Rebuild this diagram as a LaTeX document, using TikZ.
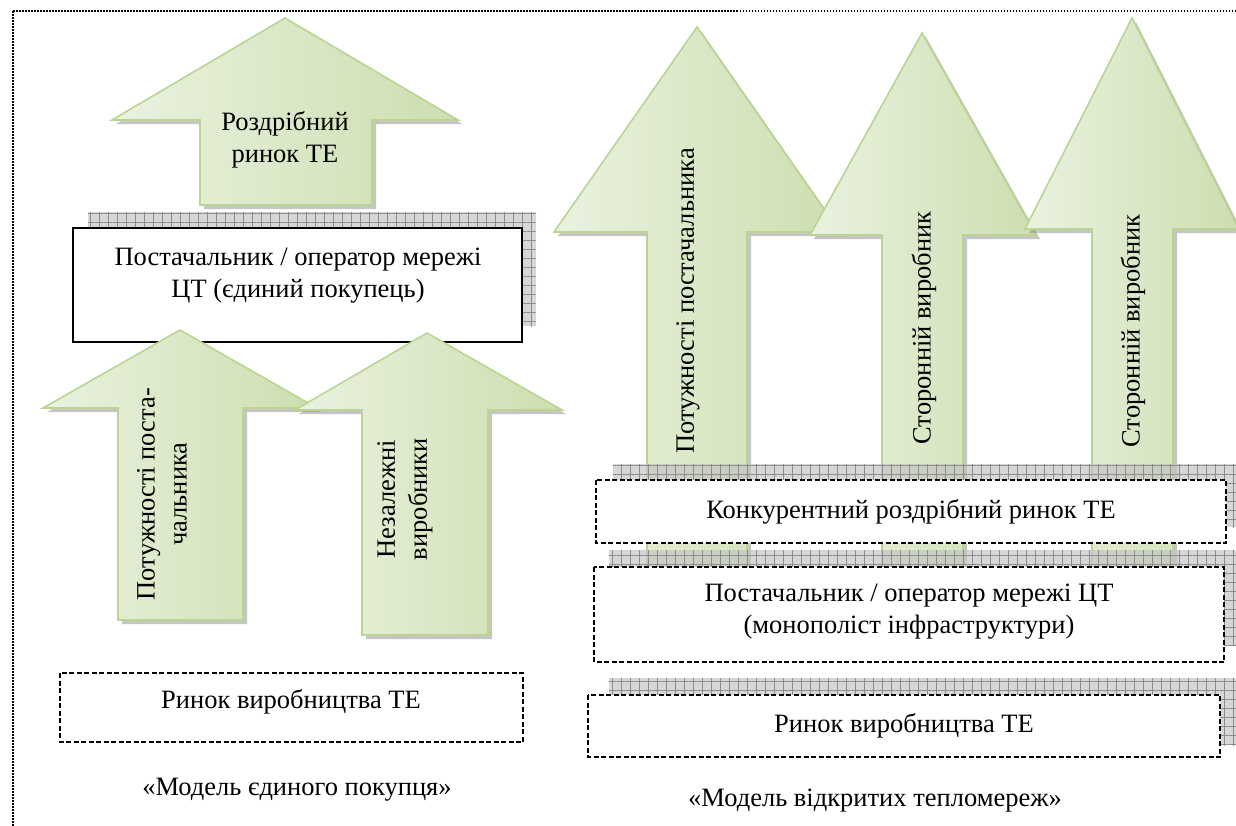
\documentclass[tikz,border=0pt]{standalone}
\usepackage{fontspec}
\setmainfont{Liberation Serif}
\usetikzlibrary{patterns.meta}
\definecolor{arrL}{RGB}{234,242,223}
\definecolor{arrD}{RGB}{204,222,176}
\definecolor{arrB}{RGB}{186,212,146}
\tikzset{
  arrowbody/.style={draw=arrB, line width=1.6pt, left color=arrL, right color=arrD, line join=miter},
  arrshadow/.style={fill=black!45, fill opacity=0.5},
  lbl/.style={font=\fontsize{26.5}{32}\selectfont, align=center, inner sep=0pt},
  solidbox/.style={draw=black, line width=1.8pt, fill=white},
  dashbox/.style={draw=black, line width=1.5pt, dash pattern=on 5pt off 2.5pt, fill=white},
  boxshadow/.style={preaction={fill=black!24, fill opacity=0.65},
     pattern={Hatch[angle=0,distance=9pt,line width=0.5pt]}, pattern color=black!45, fill opacity=0.65},
  frame/.style={line width=1.5pt, dash pattern=on 1.5pt off 1.5pt}
}
% tipx, tipy, leftcorner x, rightcorner x, base y, shaft left, shaft right, bottom
\newcommand\drawuparrow[8]{%
  \fill[arrshadow, shift={(4,4)}] (#1,#2) -- (#4,#5) -- (#7,#5) -- (#7,#8) -- (#6,#8) -- (#6,#5) -- (#3,#5) -- cycle;
  \path[arrowbody] (#1,#2) -- (#4,#5) -- (#7,#5) -- (#7,#8) -- (#6,#8) -- (#6,#5) -- (#3,#5) -- cycle;
}
\begin{document}
\begin{tikzpicture}[x=1pt,y=-1pt]
\useasboundingbox (0,0) rectangle (1236,825);
\clip (0,0) rectangle (1236,825);
\fill[white] (0,0) rectangle (1236,825);
\draw[frame] (13,11) rectangle (1260,850);

% ---------- left: single buyer model ----------
\drawuparrow{285}{18}{112}{458}{120}{200}{372}{205}
\node[lbl] (retail) at (285,140) {Роздрібний\\ринок ТЕ};

\fill[boxshadow] (88,212) rectangle (536,326);
\draw[solidbox] (73,228) rectangle (522,342);
\node[lbl] (buyer) at (298,276) {Постачальник / оператор мережі\\ЦТ (єдиний покупець)};

\drawuparrow{180}{330}{43}{317}{408}{118}{243}{620}
\node[lbl, rotate=90] (ownA) at (162,494) {Потужності поста-\\чальника};
\drawuparrow{427}{333}{295}{562}{410}{362}{488}{635}
\node[lbl, rotate=90] (indep) at (405,499) {Незалежні\\виробники};

\draw[dashbox] (60,673) rectangle (523,742);
\node[lbl] (genL) at (291,702) {Ринок виробництва ТЕ};
\node[lbl] (capL) at (297,790) {«Модель єдиного покупця»};

% ---------- right: open networks model ----------
\drawuparrow{697}{27}{554}{840}{232}{647}{747}{600}
\drawuparrow{922}{33}{810}{1036}{235}{882}{963}{600}
\drawuparrow{1132}{18}{1025}{1239}{229}{1092}{1173}{600}
\node[lbl, rotate=90] (ownC) at (688,301) {Потужності постачальника};
\node[lbl, rotate=90] (thirdD) at (924,328) {Сторонній виробник};
\node[lbl, rotate=90] (thirdE) at (1133,331) {Сторонній виробник};

\fill[boxshadow] (613,464) rectangle (1242,527);
\draw[dashbox] (596,480) rectangle (1226,543);
\node[lbl] (compR) at (911,512) {Конкурентний роздрібний ринок ТЕ};

\fill[boxshadow] (609,550) rectangle (1240,645);
\draw[dashbox] (594,567) rectangle (1224,662);
\node[lbl] (mono) at (909,612) {Постачальник / оператор мережі ЦТ\\(монополіст інфраструктури)};

\fill[boxshadow] (609,678) rectangle (1240,745);
\draw[dashbox] (588,695) rectangle (1220,757);
\node[lbl] (genR) at (904,726) {Ринок виробництва ТЕ};
\node[lbl] (capR) at (875,801) {«Модель відкритих тепломереж»};
\end{tikzpicture}
\end{document}
